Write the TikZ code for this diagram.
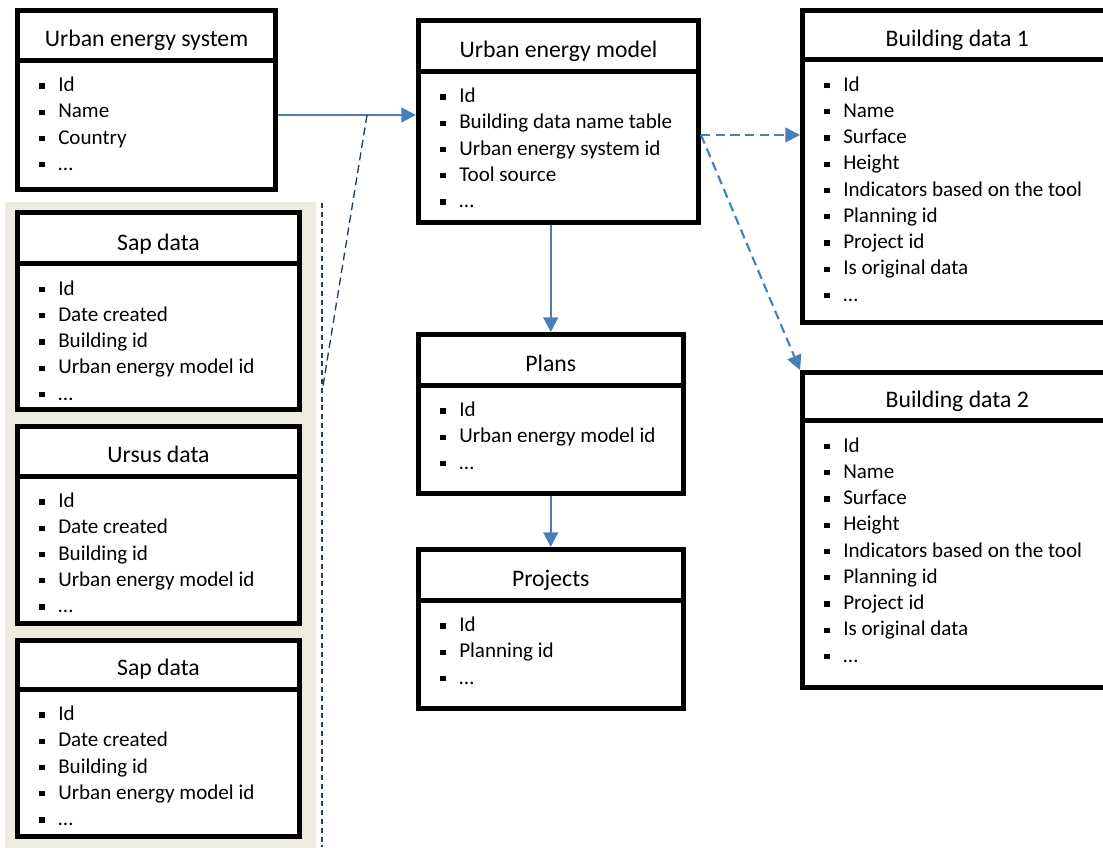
\documentclass[tikz,border=0pt]{standalone}
\usepackage{fontspec}
\setmainfont{Carlito}
\usetikzlibrary{arrows.meta}

\definecolor{linkblue}{HTML}{4A7EBB}
\definecolor{refnavy}{HTML}{243F60}
\definecolor{panelbeige}{HTML}{EEECE1}

% one bullet line of an entity
\newcommand\itm[1]{\makebox[14.25pt][l]{\raisebox{2.2pt}{\rule{4pt}{4pt}}}#1\par}

% entity box: name, left, right, top, divider, bottom, title, items
\newcommand\entity[8]{%
  \node[entity, minimum width={(#3-#2)*0.75pt}, minimum height={(#6-#4)*0.75pt}]
    (#1) at ({(#2+#3)/2},{(#4+#6)/2}) {};
  \draw[entity line] ({#2},{#5}) -- ({#3},{#5});
  \node[entity title] (#1-title) at ({(#2+#3)/2},{#5-13.5}) {#7};
  \node[entity items] (#1-items) at ({#2+21.5},{#5+31.5})
    {\parbox[t]{260pt}{\raggedright\baselineskip=19.7pt #8}};
}

\tikzset{
  entity/.style={rectangle, draw=black, line width=3.75pt, fill=white, inner sep=0pt},
  entity line/.style={draw=black, line width=3.75pt},
  entity title/.style={anchor=base, inner sep=0pt, font=\fontsize{17.8}{21}\selectfont},
  entity items/.style={anchor=base west, inner sep=0pt, font=\fontsize{15.8}{19.7}\selectfont},
  link/.style={draw=linkblue, line width=1.6pt,
    -{Triangle[length=11pt,width=11pt,fill=linkblue]}},
  dashed link/.style={link, dash pattern=on 7pt off 4pt},
  navy dash/.style={draw=refnavy, line width=1pt, dash pattern=on 6pt off 3.5pt},
  navy fine dash/.style={draw=refnavy, line width=1pt, dash pattern=on 3.8pt off 2.8pt},
}

\begin{document}
\begin{tikzpicture}[x=0.75pt, y=-0.75pt]
  \clip (0,0) rectangle (1103,847);
  \fill[white] (0,0) rectangle (1103,847);

  % panel behind the tool data tables
  \fill[panelbeige] (5,202) rectangle (316,850);

  \entity{ues}{17.5}{275.5}{10.5}{60}{189.5}{Urban energy system}
    {\itm{Id}\itm{Name}\itm{Country}\itm{…}}
  \entity{sapa}{17.5}{299.5}{212.5}{263.5}{409.5}{Sap data}
    {\itm{Id}\itm{Date created}\itm{Building id}\itm{Urban energy model id}\itm{…}}
  \entity{ursus}{17.5}{299.5}{426.5}{476}{623}{Ursus data}
    {\itm{Id}\itm{Date created}\itm{Building id}\itm{Urban energy model id}\itm{…}}
  \entity{sapb}{17.5}{299.5}{640}{689}{836}{Sap data}
    {\itm{Id}\itm{Date created}\itm{Building id}\itm{Urban energy model id}\itm{…}}
  \entity{uem}{418.5}{698.5}{20.5}{71}{222.5}{Urban energy model}
    {\itm{Id}\itm{Building data name table}\itm{Urban energy system id}\itm{Tool source}\itm{…}}
  \entity{plans}{418.5}{683}{334.5}{385}{493}{Plans}
    {\itm{Id}\itm{Urban energy model id}\itm{…}}
  \entity{projects}{418.5}{683}{549.5}{600}{708}{Projects}
    {\itm{Id}\itm{Planning id}\itm{…}}
  \entity{bda}{802.5}{1112}{10.5}{59.5}{322.5}{Building data 1}
    {\itm{Id}\itm{Name}\itm{Surface}\itm{Height}\itm{Indicators based on the tool}\itm{Planning id}\itm{Project id}\itm{Is original data}\itm{…}}
  \entity{bdb}{802.5}{1112}{372.5}{420.5}{687.5}{Building data 2}
    {\itm{Id}\itm{Name}\itm{Surface}\itm{Height}\itm{Indicators based on the tool}\itm{Planning id}\itm{Project id}\itm{Is original data}\itm{…}}

  % solid links
  \path ([yshift=-11.25pt]ues.east) coordinate (uesout);
  \draw[link] (uesout) -- (uesout -| uem.west);
  \draw[link] (plans.north |- uem.south) -- (plans.north);
  \draw[link] (projects.north |- plans.south) -- (projects.north);

  % dashed links to the building data tables
  \path ([yshift=-10.1pt]uem.east) coordinate (uemout);
  \draw[dashed link] (uemout) -- (uemout -| bda.west);
  \draw[dashed link] (uemout) -- (bdb.north west);

  % dashed guide lines beside the panel
  \coordinate (tapA) at (367,115);
  \coordinate (tapB) at (322,392);
  \coordinate (railT) at (322,203);
  \coordinate (railB) at (322,847);
  \draw[navy dash] (tapA) -- (tapB);
  \draw[navy fine dash] (railT) -- (railB);
\end{tikzpicture}
\end{document}
